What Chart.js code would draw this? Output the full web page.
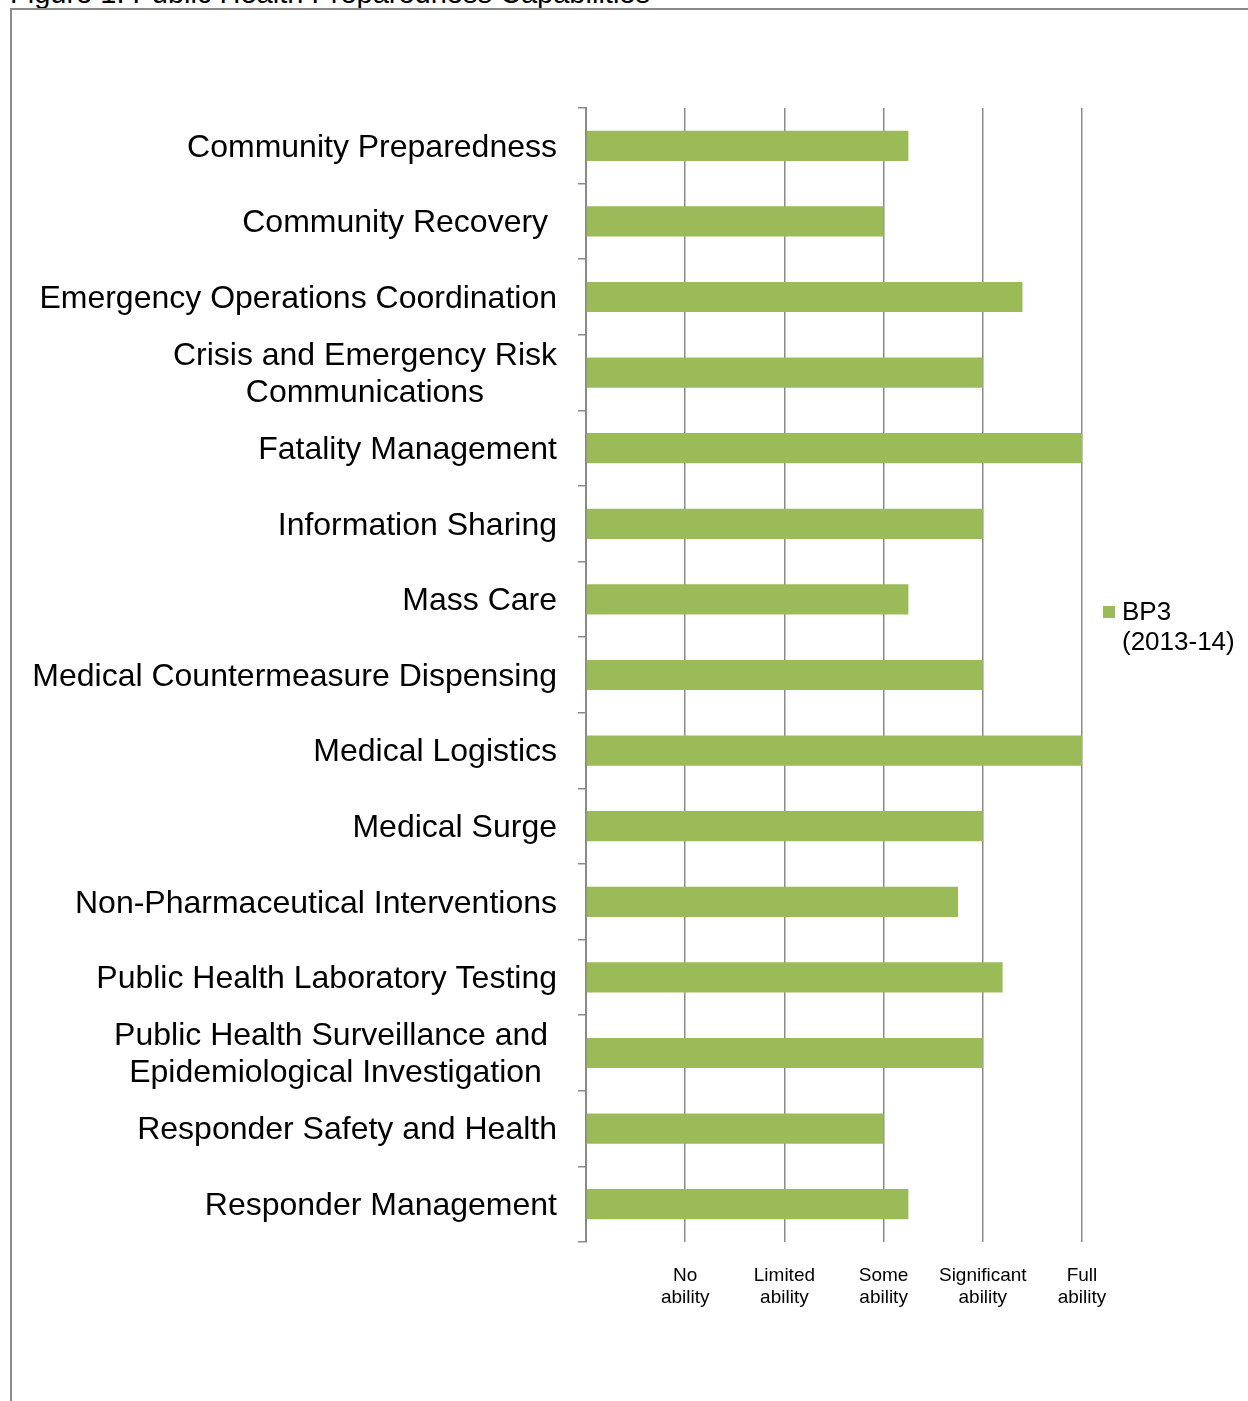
<!DOCTYPE html>
<html>
<head>
<meta charset="utf-8">
<script src="https://cdn.jsdelivr.net/npm/chart.js@4/dist/chart.umd.min.js"></script>
<style>
  html, body { margin:0; padding:0; background:#fff; overflow:hidden; width:1248px; height:1401px; }
  #frame { position:absolute; left:10px; top:8px; width:1400px; height:1600px; border:2px solid #8a8a8a; box-sizing:border-box; }
  #title { position:absolute; left:10px; top:-21px; font-family:"Liberation Sans", Arial, sans-serif; font-size:29px; line-height:29px; color:#000; white-space:nowrap; }
  #c { position:absolute; left:0; top:0; }
</style>
</head>
<body>
<div id="title">Figure 1: Public Health Preparedness Capabilities</div>
<div id="frame"></div>
<canvas id="c" width="1248" height="1401"></canvas>
<script>
const categories = [
  'Community Preparedness',
  'Community Recovery ',
  'Emergency Operations Coordination',
  'Crisis and Emergency Risk\nCommunications',
  'Fatality Management',
  'Information Sharing',
  'Mass Care',
  'Medical Countermeasure Dispensing',
  'Medical Logistics',
  'Medical Surge',
  'Non-Pharmaceutical Interventions',
  'Public Health Laboratory Testing',
  'Public Health Surveillance and \nEpidemiological Investigation',
  'Responder Safety and Health',
  'Responder Management'
];
const bp3Values = [3.25, 3.0, 4.4, 4.0, 5.0, 4.0, 3.25, 4.0, 5.0, 4.0, 3.75, 4.2, 4.0, 3.0, 3.25];
const seriesLabel = ['BP3', '(2013-14)'];
const xTickLabels = ['', ['No', 'ability'], ['Limited', 'ability'], ['Some', 'ability'], ['Significant', 'ability'], ['Full', 'ability']];

const FONT = '"Liberation Sans", Arial, sans-serif';
const GRID = '#8a8a8a';
const BAR = '#9BBB59';

const yLabelPlugin = {
  id: 'yLabels',
  afterDraw(chart) {
    const ctx = chart.ctx;
    const ys = chart.scales.y;
    ctx.save();
    ctx.font = '32px ' + FONT;
    ctx.fillStyle = '#000';
    ctx.textAlign = 'center';
    ctx.textBaseline = 'middle';
    categories.forEach((lab, i) => {
      const lines = lab.split('\n');
      const cy = ys.getPixelForValue(i) + 2;
      const w = Math.max(...lines.map(l => ctx.measureText(l).width));
      const cx = ys.right - 29 - w / 2;
      lines.forEach((ln, j) => {
        ctx.fillText(ln, cx, cy + (j - (lines.length - 1) / 2) * 37);
      });
    });
    ctx.restore();
  }
};

const legendPlugin = {
  id: 'sideLegend',
  afterDraw(chart) {
    const ctx = chart.ctx;
    const ca = chart.chartArea;
    const ds = chart.data.datasets[0];
    ctx.save();
    const x0 = ca.right + 21;
    const y0 = ca.top + 504;
    ctx.fillStyle = ds.backgroundColor;
    ctx.fillRect(x0, y0 - 6, 12, 12);
    ctx.fillStyle = '#000';
    ctx.font = '26px ' + FONT;
    ctx.textAlign = 'left';
    ctx.textBaseline = 'middle';
    seriesLabel.forEach((ln, j) => ctx.fillText(ln, x0 + 19, y0 + 1 + j * 30));
    ctx.restore();
  }
};

new Chart(document.getElementById('c'), {
  type: 'bar',
  data: {
    labels: categories,
    datasets: [{
      label: seriesLabel.join(' '),
      data: bp3Values,
      backgroundColor: BAR,
      borderWidth: 0,
      barPercentage: 0.4,
      categoryPercentage: 1.0
    }]
  },
  options: {
    indexAxis: 'y',
    responsive: false,
    animation: false,
    devicePixelRatio: 1,
    layout: { padding: { top: 108, right: 166, left: 0, bottom: 0 } },
    plugins: { legend: { display: false }, tooltip: { enabled: false }, title: { display: false } },
    scales: {
      x: {
        type: 'linear',
        position: 'bottom',
        min: 0,
        max: 5,
        border: { display: false },
        grid: { color: GRID, lineWidth: 1.5, drawTicks: false },
        ticks: {
          stepSize: 1,
          autoSkip: false,
          maxRotation: 0,
          padding: 23,
          color: '#000',
          font: { family: FONT, size: 19, lineHeight: 1.16 },
          callback: (v) => xTickLabels[v]
        },
        afterFit: (s) => { s.height = 159; }
      },
      y: {
        position: 'left',
        border: { display: true, color: GRID, width: 2 },
        grid: { display: true, drawOnChartArea: false, drawTicks: true, tickLength: 8, offset: true, color: GRID, lineWidth: 1.5 },
        ticks: { display: false },
        afterFit: (s) => { s.width = 586; }
      }
    }
  },
  plugins: [yLabelPlugin, legendPlugin]
});
</script>
</body>
</html>
